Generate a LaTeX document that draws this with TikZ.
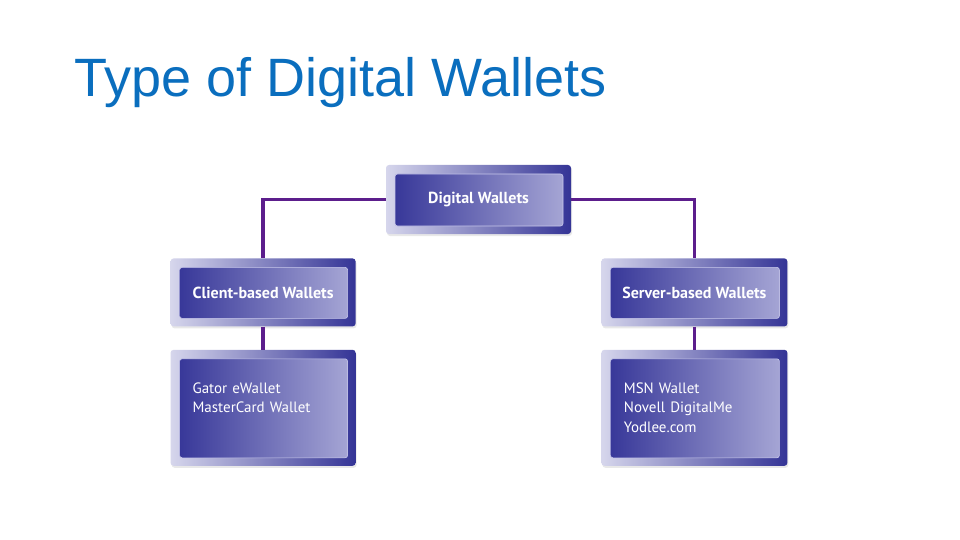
\documentclass[tikz,border=0pt]{standalone}
\usepackage{fontspec}
\setmainfont{PT Sans}
\newfontfamily\titlefont{Liberation Sans}
\usepackage{xcolor}
\usetikzlibrary{positioning,shadows}
\definecolor{titleblue}{RGB}{10,110,190}
\definecolor{linkpurple}{RGB}{92,30,140}
\definecolor{frameL}{RGB}{214,214,236}
\definecolor{frameR}{RGB}{52,52,150}
\definecolor{panelL}{RGB}{50,50,150}
\definecolor{panelR}{RGB}{170,170,215}
\definecolor{panelEdge}{RGB}{200,200,235}

\begin{document}
\begin{tikzpicture}[x=1pt, y=-1pt, node distance=23pt and 30pt, every node/.style={font=\fontsize{15}{19.5}\selectfont},
  wbox/.style={rounded corners=3pt, left color=frameL, right color=frameR, minimum width=185pt, minimum height=68pt, inner sep=0pt, text=white, align=center,
    drop shadow={opacity=0.18, shadow xshift=1pt, shadow yshift=-2pt},
    path picture={\shade[rounded corners=2.5pt, left color=panelL, right color=panelR, draw=panelEdge, line width=0.6pt]
      ([xshift=9pt, yshift=-9pt]path picture bounding box.north west) rectangle ([xshift=-8pt, yshift=8pt]path picture bounding box.south east);}},
  head/.style={wbox, font=\fontsize{16}{19}\selectfont\bfseries},
  list/.style={wbox, minimum height=116pt, text width=141pt, inner xsep=22pt, align=left},
  conn/.style={draw=linkpurple, line width=3.5pt}]
\useasboundingbox (0,0) rectangle (960,540);
\node[anchor=base west, inner sep=0pt, text=titleblue, font=\titlefont\fontsize{54}{60}\selectfont] (title) at (74,97) {Type of Digital Wallets};
\node[head, minimum height=69pt] (dw) at (478.5,199.5) {Digital Wallets};
\node[head, below left=24pt and 30pt of dw] (cw) {Client-based Wallets};
\node[head, below right=24pt and 30pt of dw, minimum width=186pt] (sw) {Server-based Wallets};
\node[list, below=of cw] (cl) {\parbox[t][50pt][t]{141pt}{Gator eWallet\\ MasterCard Wallet}};
\node[list, below=of sw, minimum width=186pt] (sl) {\parbox[t][50pt][t]{141pt}{MSN Wallet\\ Novell DigitalMe\\ Yodlee.com}};
\draw[conn] (dw.west) -| (cw.north); \draw[conn] (dw.east) -| (sw.north);
\draw[conn] (cw) -- (cl); \draw[conn] (sw) -- (sl);
\end{tikzpicture}
\end{document}
